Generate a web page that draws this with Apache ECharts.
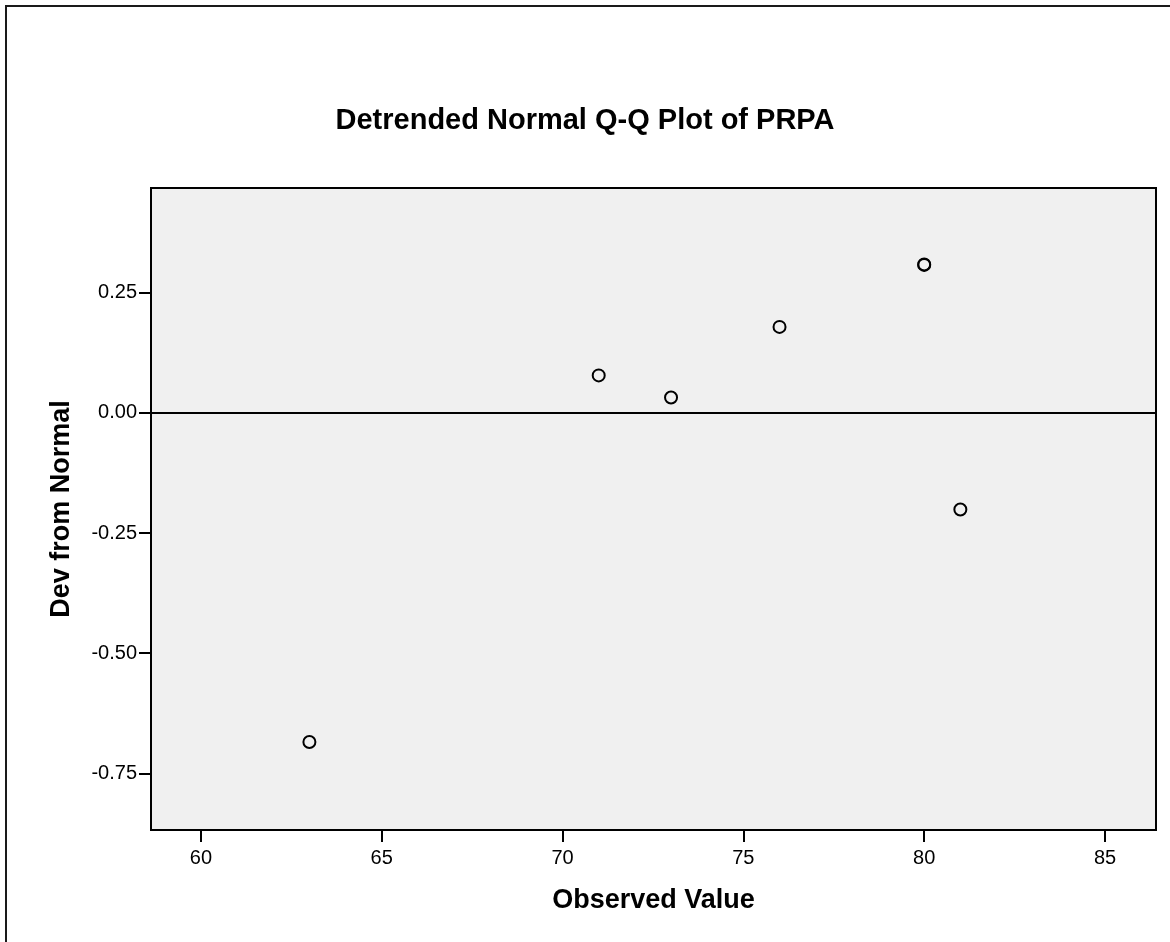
<!DOCTYPE html>
<html>
<head>
<meta charset="utf-8">
<script src="https://cdn.jsdelivr.net/npm/echarts@6/dist/echarts.min.js"></script>
<style>
  html, body { margin: 0; padding: 0; background: #fff; }
  #chart { width: 1170px; height: 942px; }
</style>
</head>
<body>
<div id="chart"></div>
<script>
// Observed values and their deviation from the normal expectation
const observedValues = [63, 71, 73, 76, 80, 80, 81];
const devFromNormal = [-0.685, 0.078, 0.032, 0.179, 0.309, 0.308, -0.201];

// Axis tick positions
const xTicks = [60, 65, 70, 75, 80, 85];
const yTicks = [-0.75, -0.5, -0.25, 0, 0.25];

const FONT = '"Liberation Sans", Arial, sans-serif';

const points = observedValues.map((v, i) => [v, devFromNormal[i]]);

const chart = echarts.init(document.getElementById('chart'), null, { renderer: 'canvas' });

chart.setOption({
  animation: false,
  backgroundColor: '#ffffff',
  graphic: [{
    type: 'rect',
    shape: { x: 6, y: 6, width: 1300, height: 1100 },
    style: { fill: 'none', stroke: '#1a1a1a', lineWidth: 2 },
    silent: true,
    z: 100
  }],
  title: {
    text: 'Detrended Normal Q-Q Plot of PRPA',
    left: 'center',
    top: 101,
    textStyle: { fontFamily: FONT, fontSize: 29, fontWeight: 'bold', color: '#000' }
  },
  grid: {
    left: 151, top: 188, right: 14, bottom: 112,
    show: true,
    backgroundColor: '#f0f0f0',
    borderColor: '#000',
    borderWidth: 2
  },
  xAxis: {
    type: 'value',
    min: 58.62,
    max: 86.41,
    name: 'Observed Value',
    nameLocation: 'middle',
    nameGap: 57,
    nameTextStyle: { fontFamily: FONT, fontSize: 27, fontWeight: 'bold', color: '#000' },
    axisLine: { show: true, onZero: false, lineStyle: { color: '#000', width: 2 } },
    axisTick: { show: true, length: 12, customValues: xTicks, lineStyle: { color: '#000', width: 2 } },
    axisLabel: {
      customValues: xTicks,
      margin: 18,
      fontFamily: FONT, fontSize: 20, color: '#000'
    },
    splitLine: { show: false }
  },
  yAxis: {
    type: 'value',
    min: -0.868,
    max: 0.468,
    name: 'Dev from Normal',
    nameLocation: 'middle',
    nameGap: 76,
    nameTextStyle: { fontFamily: FONT, fontSize: 27, fontWeight: 'bold', color: '#000' },
    axisLine: { show: true, onZero: false, lineStyle: { color: '#000', width: 2 } },
    axisTick: { show: true, length: 12, customValues: yTicks, lineStyle: { color: '#000', width: 2 } },
    axisLabel: {
      customValues: yTicks,
      margin: 14,
      formatter: v => v.toFixed(2),
      fontFamily: FONT, fontSize: 20, color: '#000'
    },
    splitLine: { show: false }
  },
  series: [{
    type: 'scatter',
    data: points,
    symbol: 'circle',
    symbolSize: 12,
    itemStyle: { color: 'rgba(0,0,0,0)', borderColor: '#000', borderWidth: 2, opacity: 1 },
    markLine: {
      silent: true,
      symbol: ['none', 'none'],
      label: { show: false },
      lineStyle: { color: '#000', width: 2, type: 'solid' },
      data: [{ yAxis: 0 }]
    }
  }]
});
</script>
</body>
</html>
